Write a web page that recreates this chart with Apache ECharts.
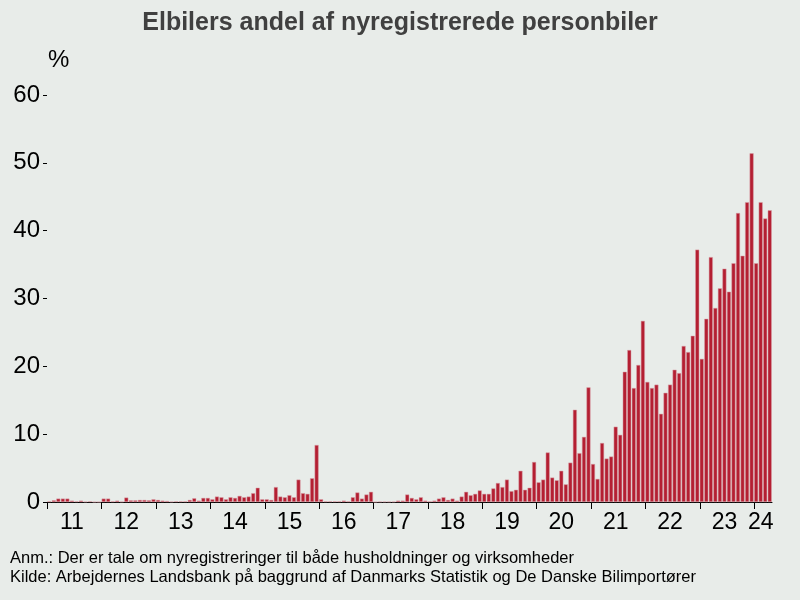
<!DOCTYPE html>
<html><head><meta charset="utf-8">
<script src="https://cdn.jsdelivr.net/npm/echarts@6/dist/echarts.min.js"></script>
<style>html,body{margin:0;padding:0;background:#e8ece9}#c{width:800px;height:600px}</style>
</head><body><div id="c"></div>
<script>
const yearLabels = ['11','12','13','14','15','16','17','18','19','20','21','22','23','24'];
const v2011 = [0.1,0.25,0.5,0.5,0.5,0.2,0.1,0.2,0.05,0.1,0,0];
const v2012 = [0.5,0.5,0.1,0.2,0.05,0.65,0.25,0.25,0.3,0.3,0.25,0.4];
const v2013 = [0.3,0.2,0.15,0.05,0.1,0.1,0.1,0.3,0.55,0.2,0.6,0.6];
const v2014 = [0.4,0.8,0.7,0.4,0.7,0.6,0.9,0.7,0.8,1.3,2.1,0.4];
const v2015 = [0.4,0.3,2.2,0.8,0.7,1.0,0.7,3.3,1.3,1.2,3.5,8.4];
const v2016 = [0.4,0.1,0.1,0.1,0.1,0.2,0.1,0.7,1.4,0.5,1.1,1.5];
const v2017 = [0,0.05,0.05,0.05,0.05,0.2,0.2,1.1,0.6,0.4,0.7,0.2];
const v2018 = [0.1,0.2,0.5,0.7,0.3,0.5,0.2,0.8,1.5,1.0,1.2,1.7];
const v2019 = [1.2,1.2,2.0,2.8,2.2,3.3,1.6,1.8,4.6,1.8,2.1,5.9];
const v2020 = [2.9,3.3,7.3,3.6,3.2,4.6,2.6,5.8,13.6,7.2,9.6,16.9];
const v2021 = [5.6,3.4,8.7,6.4,6.7,11.1,9.9,19.2,22.4,16.8,20.2,26.7];
const v2022 = [17.7,16.8,17.3,13.0,16.1,17.3,19.5,19.0,23.0,22.1,24.5,37.2];
const v2023 = [21.1,27.0,36.1,28.6,31.5,34.4,31.0,35.2,42.6,36.3,44.2,51.4];
const v2024 = [35.2,44.2,41.8,43.0];
const yearly = [v2011,v2012,v2013,v2014,v2015,v2016,v2017,v2018,v2019,v2020,v2021,v2022,v2023,v2024];

const cats = [], vals = [], labelAt = {}, starts = [];
yearly.forEach((arr, yi) => {
  const start = cats.length; starts.push(start);
  arr.forEach((v, m) => { cats.push(yearLabels[yi] + '-' + (m + 1)); vals.push(v); });
  labelAt[start + Math.floor((arr.length - 1) / 2)] = yearLabels[yi];
});

const chart = echarts.init(document.getElementById('c'));
chart.setOption({
  backgroundColor: '#e8ece9',
  animation: false,
  title: { text: 'Elbilers andel af nyregistrerede personbiler', left: 'center', top: 6,
    textStyle: { fontFamily: 'Liberation Sans', fontSize: 25, fontWeight: 'bold', color: '#404040' } },
  grid: { left: 47, right: 28, top: 95, bottom: 98 },
  xAxis: {
    type: 'category', data: cats,
    axisLine: { lineStyle: { color: '#000', width: 1 } },
    axisTick: { show: false },
    axisLabel: { interval: (i) => labelAt[i] !== undefined, formatter: (v, i) => labelAt[i] || '',
      fontFamily: 'Liberation Sans', fontSize: 23, color: '#000', margin: 9 }
  },
  yAxis: {
    type: 'value', min: 0, max: 60, interval: 10,
    splitLine: { show: false },
    axisLine: { show: false },
    axisTick: { show: true, length: 4, lineStyle: { color: '#000' } },
    axisLabel: { fontFamily: 'Liberation Sans', fontSize: 24, color: '#000', margin: 7 }
  },
  series: [{ type: 'bar', data: vals, barCategoryGap: '12%',
    itemStyle: { color: '#b41f32', borderColor: '#d9a0a8', borderWidth: 0.5 } }]
});
const y0 = chart.convertToPixel({ yAxisIndex: 0 }, 0);
const half = (chart.convertToPixel({ xAxisIndex: 0 }, 1) - chart.convertToPixel({ xAxisIndex: 0 }, 0)) / 2;
const ticks = starts.map(i => {
  const x = Math.round(chart.convertToPixel({ xAxisIndex: 0 }, i) - half) + 0.5;
  return { type: 'line', shape: { x1: x, y1: y0, x2: x, y2: y0 + 7 }, style: { stroke: '#000', lineWidth: 1 } };
});
chart.setOption({ graphic: ticks.concat([
  { type: 'text', left: 48, top: 48, style: { text: '%', font: '24px "Liberation Sans"', fill: '#000' } },
  { type: 'text', left: 10, top: 549, style: { text: 'Anm.: Der er tale om nyregistreringer til både husholdninger og virksomheder\nKilde: Arbejdernes Landsbank på baggrund af Danmarks Statistik og De Danske Bilimportører', font: '16.5px "Liberation Sans"', fill: '#000', lineHeight: 19 } }
]) });
</script></body></html>
